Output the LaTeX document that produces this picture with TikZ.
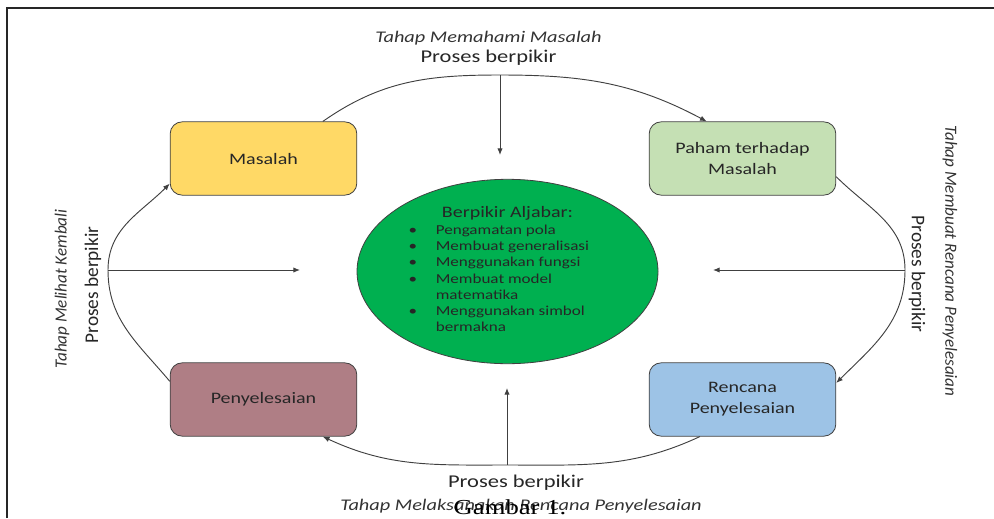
\documentclass[tikz,border=0pt]{standalone}
\usepackage{fontspec}
\setmainfont{Carlito}
\newfontfamily\widefont{Carlito}[FakeStretch=1.25]
\newfontfamily\capfont{Liberation Serif}[FakeStretch=1.25]
\usepackage{tikz}
\usetikzlibrary{shapes.geometric,arrows.meta,positioning,calc}
\definecolor{msyellow}{HTML}{FFD966}
\definecolor{msgreen}{HTML}{C5E0B4}
\definecolor{msmauve}{HTML}{AF7E85}
\definecolor{msblue}{HTML}{9DC3E6}
\definecolor{mscore}{HTML}{00B050}
\definecolor{msline}{HTML}{404040}
\definecolor{mstext}{HTML}{262626}
\tikzset{
  stage/.style={rounded corners=9pt, draw=msline, line width=0.6pt,
    minimum width=140pt, minimum height=55pt, align=center, text=mstext,
    font=\widefont\fontsize{12}{15.75}\selectfont},
  core/.style={ellipse, draw=msline, line width=0.6pt, fill=mscore,
    minimum width=225.75pt, minimum height=114.75pt, inner sep=0pt,
    align=center, text=black!85},
  flow/.style={-{Latex[length=5pt,width=4pt]}, draw=msline, line width=0.7pt},
  proses/.style={font=\widefont\fontsize{13.5}{16}\selectfont, inner sep=0pt, text=black!85},
  prosesv/.style={font=\fontsize{14.5}{17}\selectfont, inner sep=0pt, text=black!85},
  tahap/.style={font=\widefont\itshape\fontsize{12.2}{14}\selectfont, inner sep=0pt, text=black!80},
  tahapv/.style={font=\itshape\fontsize{12.8}{15}\selectfont, inner sep=0pt, text=black!80},
}
\begin{document}
\begin{tikzpicture}[x=0.75pt, y=-0.75pt]
\useasboundingbox (0,0) rectangle (994,518);
\draw[line width=1.8pt, black!85] (7,518) -- (7,8) -- (994,8);

\node[stage, fill=msyellow] (masalah) at (263.5,158.5) {Masalah};
\node[stage, fill=msgreen] (paham) at (742.5,158.5) {Paham terhadap\\Masalah};
\node[stage, fill=msblue] (rencana) at (742.5,399.5) {Rencana\\Penyelesaian};
\node[stage, fill=msmauve] (penyelesaian) at (263.5,399.5) {Penyelesaian};

\node[core] (aljabar) at (507.5,271.5) {%
  {\widefont\fontsize{12}{14}\selectfont Berpikir Aljabar:}\\[1pt]
  {\widefont\fontsize{10.25}{12.2}\selectfont
  \begin{tabular}{@{}l@{\hspace{14pt}}l@{}}
  \textbullet & Pengamatan pola\\
  \textbullet & Membuat generalisasi\\
  \textbullet & Menggunakan fungsi\\
  \textbullet & Membuat model\\
              & matematika\\
  \textbullet & Menggunakan simbol\\
              & bermakna
  \end{tabular}\hspace*{13pt}}};

\coordinate (topmid) at (500,75);
\coordinate (toptip) at (500,155);
\coordinate (rightmid) at (905,270);
\coordinate (righttip) at (713,270);
\coordinate (botmid) at (507,465);
\coordinate (bottip) at (507,388);
\coordinate (leftmid) at (108,270);
\coordinate (lefttip) at (300,270);

\node[tahap] (tahap1) at (488.5,38) {Tahap Memahami Masalah};
\node[proses] (proses1) at (488.5,58) {Proses berpikir};
\node[prosesv, rotate=-90] (proses2) at (917,274) {Proses berpikir};
\node[tahapv, rotate=-90] (tahap2) at (950,261) {Tahap Membuat Rencana Penyelesaian};
\node[proses] (proses3) at (516,483) {Proses berpikir};
\node[tahap] (tahap3) at (521,506) {Tahap Melaksanakan Rencana Penyelesaian};
\node[prosesv, rotate=90] (proses4) at (93,285) {Proses berpikir};
\node[tahapv, rotate=90] (tahap4) at (62,289) {Tahap Melihat Kembali};
\node[font=\capfont\fontsize{16}{18}\selectfont, inner sep=0pt] (gambar) at (510,507) {Gambar 1.};

\draw[flow] (masalah.32) to[out=35,in=180] (topmid) to[out=0,in=152] (paham.134);
\draw[flow] (topmid) -- (toptip);
\draw[flow] (paham.-11) to[out=-45,in=90] (rightmid) to[out=-90,in=45] (rencana.10);
\draw[flow] (rightmid) -- (righttip);
\draw[flow] (rencana.221) to[out=-155,in=0] (botmid) to[out=180,in=-25] (penyelesaian.-32);
\draw[flow] (botmid) -- (bottip);
\draw[flow] (penyelesaian.169) to[out=130,in=-90] (leftmid) to[out=90,in=-135] (masalah.195);
\draw[flow] (leftmid) -- (lefttip);
\end{tikzpicture}
\end{document}
